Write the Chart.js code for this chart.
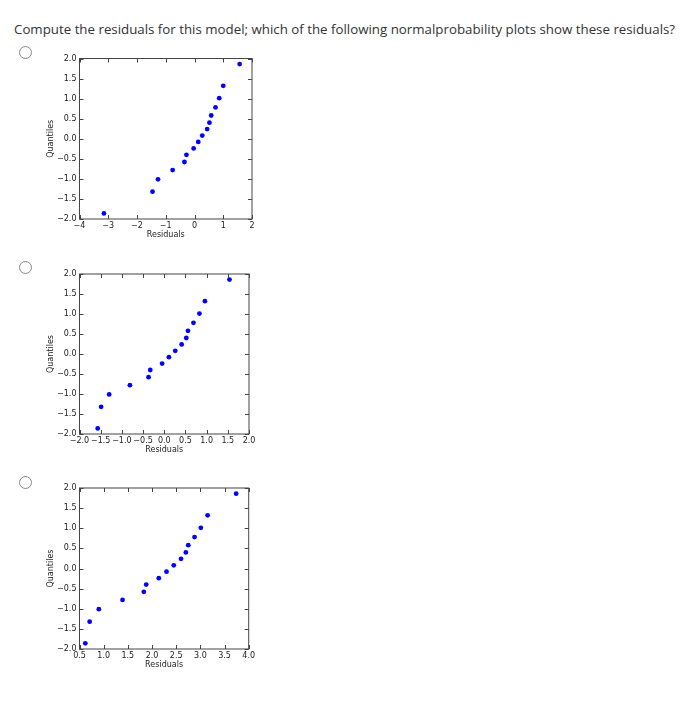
<!DOCTYPE html>
<html>
<head>
<meta charset="utf-8">
<script src="https://cdn.jsdelivr.net/npm/chart.js@4.4.0/dist/chart.umd.min.js"></script>
<style>
  body { margin: 0; background: #fff; width: 693px; height: 702px; position: relative; overflow: hidden; }
  .q { position: absolute; left: 14px; top: 19.5px; font-family: 'Open Sans', sans-serif; font-size: 13.3px; color: #333; white-space: nowrap; }
  .radio { position: absolute; left: 19px; width: 11px; height: 11px; border: 1px solid #888; border-radius: 50%; }
  canvas { position: absolute; left: 0; }
</style>
</head>
<body>
<div class="q">Compute the residuals for this model; which of the following normalprobability plots show these residuals?</div>
<div class="radio" style="top:46px"></div>
<div class="radio" style="top:261px"></div>
<div class="radio" style="top:476px"></div>
<canvas id="c1" style="top:40px"></canvas>
<canvas id="c2" style="top:255px"></canvas>
<canvas id="c3" style="top:470px"></canvas>
<script>
// normal quantiles (y) shared by all three plots
var quantiles = [-1.86, -1.32, -1.01, -0.78, -0.58, -0.40, -0.24, -0.08, 0.08, 0.24, 0.40, 0.58, 0.78, 1.01, 1.32, 1.86];

// residuals
var residualsA = [-3.15, -1.46, -1.27, -0.76, -0.35, -0.28, -0.03, 0.13, 0.27, 0.44, 0.52, 0.58, 0.73, 0.86, 1.00, 1.57];
var residualsB = [-1.57, -1.49, -1.30, -0.81, -0.37, -0.33, -0.05, 0.11, 0.26, 0.41, 0.52, 0.56, 0.69, 0.83, 0.96, 1.54];
var residualsC = [0.62, 0.71, 0.90, 1.39, 1.83, 1.88, 2.14, 2.30, 2.45, 2.60, 2.70, 2.75, 2.88, 3.01, 3.15, 3.74];

// tick values
var xTicksA = [-4, -3, -2, -1, 0, 1, 2];
var xTicksB = [-2.0, -1.5, -1.0, -0.5, 0.0, 0.5, 1.0, 1.5, 2.0];
var xTicksC = [0.5, 1.0, 1.5, 2.0, 2.5, 3.0, 3.5, 4.0];
var yTicks = [-2.0, -1.5, -1.0, -0.5, 0.0, 0.5, 1.0, 1.5, 2.0];

var axisFont = { family: 'DejaVu Sans', size: 8 };

function fmt(v, dec) {
  return v.toFixed(dec).replace('-', '\u2212');
}

// matplotlib style box with inward ticks on every side
var framePlugin = {
  id: 'frame',
  afterDatasetsDraw: function(chart) {
    var ctx = chart.ctx, a = chart.chartArea;
    var xs = chart.scales.x, ys = chart.scales.y;
    ctx.save();
    ctx.strokeStyle = '#444';
    ctx.lineWidth = 1;
    ctx.strokeRect(a.left, a.top, a.right - a.left, a.bottom - a.top);
    ctx.beginPath();
    xs.ticks.forEach(function(t, i) {
      var px = Math.round(xs.getPixelForTick(i)) + 0.5;
      ctx.moveTo(px, a.bottom); ctx.lineTo(px, a.bottom - 4);
      ctx.moveTo(px, a.top); ctx.lineTo(px, a.top + 4);
    });
    ys.ticks.forEach(function(t, i) {
      var py = Math.round(ys.getPixelForTick(i)) + 0.5;
      ctx.moveTo(a.left, py); ctx.lineTo(a.left + 4, py);
      ctx.moveTo(a.right, py); ctx.lineTo(a.right - 4, py);
    });
    ctx.stroke();
    ctx.restore();
  }
};

function makePlot(id, residuals, xTicks, xDec, padTop, padRight) {
  var el = document.getElementById(id);
  el.width = 270;
  el.height = 210;
  var pts = residuals.map(function(r, i) { return { x: r, y: quantiles[i] }; });
  return new Chart(el, {
    type: 'scatter',
    data: {
      datasets: [{
        data: pts,
        backgroundColor: '#0000ff',
        borderWidth: 0,
        pointRadius: 2.4
      }]
    },
    options: {
      responsive: false,
      animation: false,
      devicePixelRatio: 1,
      layout: { padding: { left: 0, right: padRight, top: padTop, bottom: 0 } },
      plugins: { legend: { display: false }, tooltip: { enabled: false } },
      scales: {
        x: {
          min: xTicks[0],
          max: xTicks[xTicks.length - 1],
          afterBuildTicks: function(s) { s.ticks = xTicks.map(function(v) { return { value: v }; }); },
          afterFit: function(s) { s.height = 31; },
          grid: { display: false, drawTicks: false },
          border: { display: false },
          ticks: {
            autoSkip: false, maxRotation: 0, minRotation: 0, padding: 2.5,
            font: axisFont, color: '#222',
            callback: function(v) { return fmt(v, xDec); }
          },
          title: { display: true, text: 'Residuals', font: axisFont, color: '#222', padding: { top: 0, bottom: 10 } }
        },
        y: {
          min: -2,
          max: 2,
          afterBuildTicks: function(s) { s.ticks = yTicks.map(function(v) { return { value: v }; }); },
          afterFit: function(s) { s.width = 79.5; },
          grid: { display: false, drawTicks: false },
          border: { display: false },
          ticks: {
            autoSkip: false, padding: 3,
            font: axisFont, color: '#222',
            callback: function(v) { return fmt(v, 1); }
          },
          title: { display: true, text: 'Quantiles', font: axisFont, color: '#222', padding: { top: 46.2, bottom: 0 } }
        }
      }
    },
    plugins: [framePlugin]
  });
}

makePlot('c1', residualsA, xTicksA, 0, 18.5, 18);
makePlot('c2', residualsB, xTicksB, 1, 19, 21);
makePlot('c3', residualsC, xTicksC, 1, 18, 21.3);
</script>
</body>
</html>
